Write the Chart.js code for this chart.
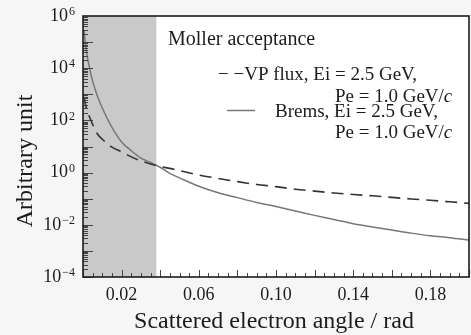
<!DOCTYPE html>
<html>
<head>
<meta charset="utf-8">
<script src="https://cdn.jsdelivr.net/npm/chart.js@4.4.1/dist/chart.umd.min.js"></script>
<style>
  html, body { margin: 0; padding: 0; background: #f6f6f6; }
  #wrap { width: 471px; height: 335px; }
</style>
</head>
<body>
<div id="wrap"><canvas id="chart" width="471" height="335"></canvas></div>
<script>
// --- data ---
const angles = [0.0006, 0.001, 0.002, 0.003, 0.005, 0.0075, 0.01, 0.015, 0.02, 0.025, 0.03, 0.035, 0.04, 0.045, 0.05,
  0.06, 0.07, 0.08, 0.09, 0.10, 0.11, 0.12, 0.13, 0.14, 0.15, 0.16, 0.17, 0.18, 0.19, 0.20];
const vpFlux = [800, 500, 250, 160, 70, 30, 19, 9.5, 6.2, 4.0, 2.8, 2.15, 1.7, 1.45, 1.2,
  0.81, 0.6, 0.45, 0.35, 0.29, 0.23, 0.195, 0.166, 0.145, 0.129, 0.112, 0.098, 0.087, 0.076, 0.066];
const brems = [2.8e5, 1.26e5, 3.5e4, 1.4e4, 3.2e3, 850, 300, 54, 15, 6.9, 3.6, 2.45, 1.6, 0.93, 0.63,
  0.30, 0.17, 0.11, 0.072, 0.05, 0.034, 0.023, 0.016, 0.011, 0.0083, 0.0063, 0.0048, 0.0038, 0.0032, 0.0026];
const xTickValues = [0.02, 0.06, 0.10, 0.14, 0.18];
const yTickValues = [1e-4, 1e-2, 1, 1e2, 1e4, 1e6];
const yTickExps = ["\u22124", "\u22122", "0", "2", "4", "6"];
const acceptanceMax = 0.038;

const serif = '"Liberation Serif", "Times New Roman", serif';
const ink = "#1c1c1c";

// shaded region, frame, inner ticks, y labels, titles and legend
const figurePlugin = {
  id: "figure",
  beforeDraw(chart) {
    const { ctx, chartArea: a } = chart;
    const x = chart.scales.x;
    ctx.save();
    ctx.fillStyle = "#f6f6f6";
    ctx.fillRect(0, 0, chart.width, chart.height);
    ctx.fillStyle = "#ffffff";
    ctx.fillRect(a.left, a.top, a.right - a.left, a.bottom - a.top);
    const x0 = x.getPixelForValue(0);
    const x1 = x.getPixelForValue(acceptanceMax);
    ctx.fillStyle = "#c9c9c9";
    ctx.fillRect(x0, a.top, x1 - x0, a.bottom - a.top);
    ctx.restore();
  },
  afterDraw(chart) {
    const { ctx, chartArea: a } = chart;
    const x = chart.scales.x;
    const y = chart.scales.y;
    ctx.save();

    // inner ticks
    ctx.strokeStyle = "#444";
    ctx.lineWidth = 1;
    ctx.beginPath();
    for (let k = -4; k < 6; k++) {
      for (let m = 1; m <= 9; m++) {
        const py = Math.round(y.getPixelForValue(m * Math.pow(10, k))) + 0.5;
        const len = m === 1 ? 10 : 5;
        ctx.moveTo(a.left, py);
        ctx.lineTo(a.left + len, py);
      }
    }
    for (let i = 0; i <= 40; i++) {
      const px = Math.round(x.getPixelForValue(i * 0.005)) + 0.5;
      const len = i % 4 === 0 ? 7 : 4;
      ctx.moveTo(px, a.bottom);
      ctx.lineTo(px, a.bottom - len);
    }
    ctx.stroke();

    // frame
    ctx.strokeStyle = ink;
    ctx.lineWidth = 1.6;
    ctx.strokeRect(a.left, a.top, a.right - a.left, a.bottom - a.top);

    // y tick labels 10^n
    ctx.fillStyle = ink;
    ctx.textBaseline = "middle";
    ctx.textAlign = "left";
    yTickValues.forEach((v, i) => {
      const py = y.getPixelForValue(v);
      ctx.font = "12px " + serif;
      const ew = ctx.measureText(yTickExps[i]).width;
      ctx.font = "18px " + serif;
      const bw = ctx.measureText("10").width;
      const right = a.left - 8;
      ctx.fillText("10", right - ew - 1 - bw, py);
      ctx.font = "12px " + serif;
      ctx.fillText(yTickExps[i], right - ew, py - 4);
    });

    // axis titles
    ctx.textAlign = "center";
    ctx.textBaseline = "alphabetic";
    ctx.font = "24px " + serif;
    ctx.fillText("Scattered electron angle / rad", (a.left + a.right) / 2 - 2, 328);
    ctx.save();
    ctx.translate(32, 161);
    ctx.rotate(-Math.PI / 2);
    ctx.font = "24px " + serif;
    ctx.fillText("Arbitrary unit", 0, 0);
    ctx.restore();

    // legend
    ctx.textAlign = "left";
    ctx.font = "20px " + serif;
    ctx.fillText("Moller acceptance", 168, 45);
    ctx.font = "19px " + serif;
    ctx.fillText("\u2212 \u2212VP flux, Ei = 2.5 GeV,", 218, 80);
    const pe = (px, py) => {
      ctx.font = "19px " + serif;
      ctx.fillText("Pe = 1.0 GeV/", px, py);
      const w = ctx.measureText("Pe = 1.0 GeV/").width;
      ctx.font = "italic 19px " + serif;
      ctx.fillText("c", px + w, py);
    };
    pe(335, 101.7);
    ctx.strokeStyle = "#777";
    ctx.lineWidth = 1.5;
    ctx.beginPath();
    ctx.moveTo(227, 110.5);
    ctx.lineTo(255, 110.5);
    ctx.stroke();
    ctx.font = "19px " + serif;
    ctx.fillText("Brems, Ei = 2.5 GeV,", 275, 116.7);
    pe(335, 138.3);

    ctx.restore();
  }
};

new Chart(document.getElementById("chart"), {
  type: "line",
  data: {
    datasets: [
      {
        label: "VP flux, Ei = 2.5 GeV, Pe = 1.0 GeV/c",
        data: angles.map((a, i) => ({ x: a, y: vpFlux[i] })),
        borderColor: "#333",
        borderWidth: 1.6,
        borderDash: [12, 7],
        pointRadius: 0,
        cubicInterpolationMode: "monotone",
        fill: false,
      },
      {
        label: "Brems, Ei = 2.5 GeV, Pe = 1.0 GeV/c",
        data: angles.map((a, i) => ({ x: a, y: brems[i] })),
        borderColor: "#777",
        borderWidth: 1.5,
        pointRadius: 0,
        cubicInterpolationMode: "monotone",
        fill: false,
      },
    ],
  },
  options: {
    responsive: false,
    animation: false,
    devicePixelRatio: 1,
    layout: { padding: { top: 16, right: 2, left: 0, bottom: 0 } },
    plugins: { legend: { display: false }, tooltip: { enabled: false } },
    scales: {
      x: {
        type: "linear",
        min: 0,
        max: 0.2,
        afterBuildTicks: (s) => { s.ticks = xTickValues.map((v) => ({ value: v })); },
        afterFit: (s) => { s.height = 58; },
        grid: { display: false, drawTicks: false },
        border: { display: false },
        ticks: {
          font: { family: serif, size: 18 },
          color: ink,
          padding: 7,
          maxRotation: 0,
          autoSkip: false,
          callback: (v) => Number(v).toFixed(2),
        },
      },
      y: {
        type: "logarithmic",
        min: 1e-4,
        max: 1e6,
        afterBuildTicks: (s) => { s.ticks = yTickValues.map((v) => ({ value: v })); },
        afterFit: (s) => { s.width = 83; },
        grid: { display: false, drawTicks: false },
        border: { display: false },
        ticks: { display: false },
      },
    },
  },
  plugins: [figurePlugin],
});
</script>
</body>
</html>
